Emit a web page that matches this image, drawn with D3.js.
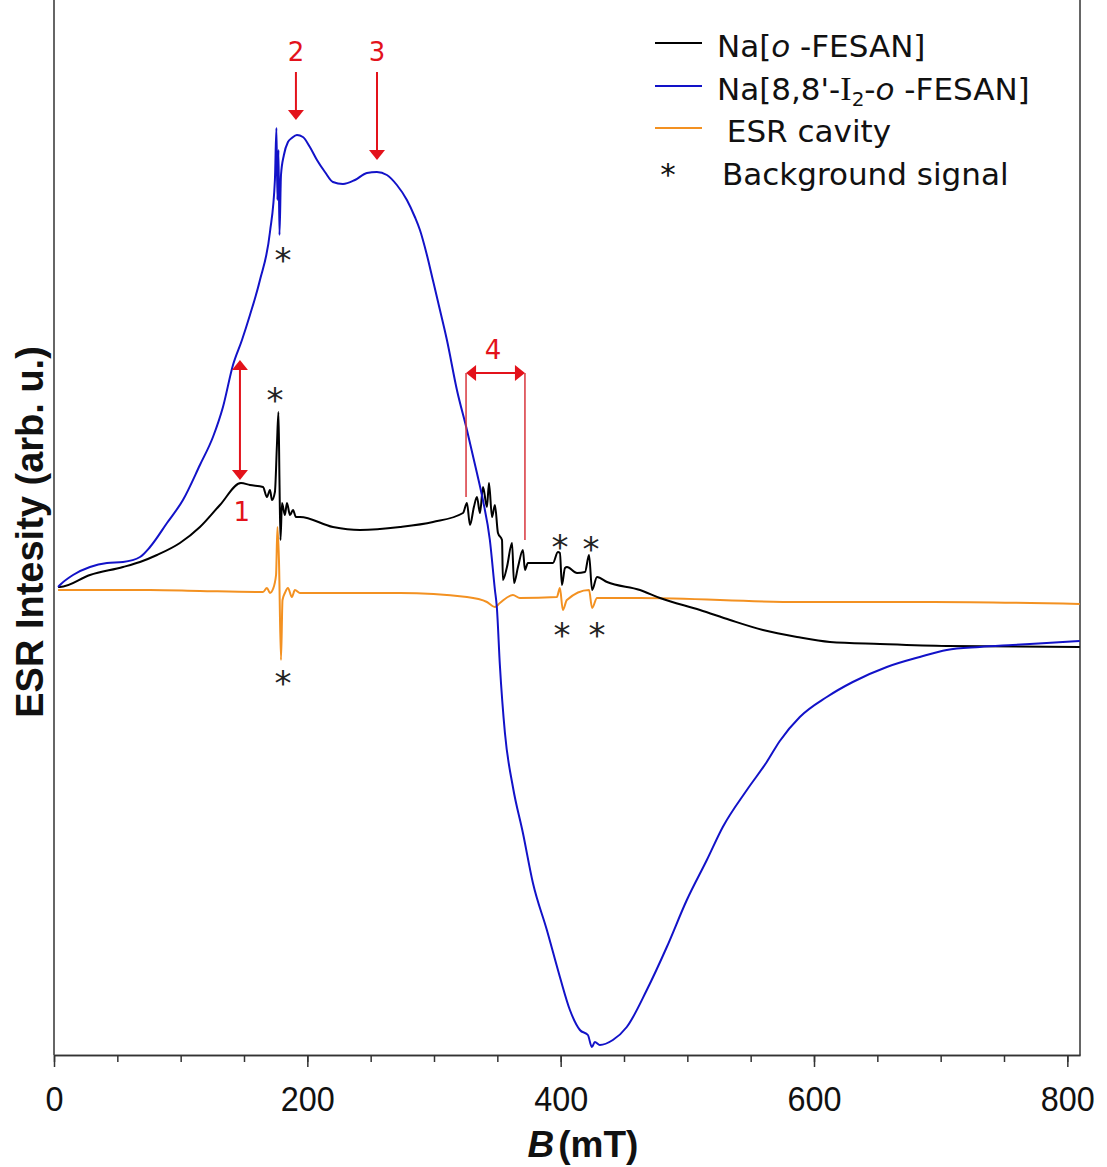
<!DOCTYPE html>
<html>
<head>
<meta charset="utf-8">
<script src="https://cdn.jsdelivr.net/npm/d3@7"></script>
<style>
body { margin: 0; background: #fff; }
text { white-space: pre; }
</style>
</head>
<body>
<script>
// field in mT, intensity in arb. u.
var blackB = [3.2,4.7,28.4,54.5,67.9,81.3,99.4,115.2,131,147.6,154.7,165,168.1,170.5,172.1,174.4,176,177.2,178,178.8,180,182.3,183.9,186.3,188.7,191,194.2,220.2,241.6,273.2,299.2,322.9,326,328.4,331.5,333.9,336.3,338.7,341.8,343.4,345.8,348.1,350.5,353.7,354.4,357.6,361.6,363.2,366.3,370.2,371.8,374.1,393.9,397.8,399.4,401,403.4,405,412.9,419.2,422.4,424.8,428.7,436.6,462.6,478.4,510,533.7,559.7,586.6,612.6,652.1,705,809.8];
var blackI = [4,4,16,24,29,36,48,64,86,108,106,104,94,101,91,99,146,179,111,51,88,76,88,76,81,74,74,64,61,64,69,78,88,66,84,94,78,104,84,108,74,86,58,51,11,24,48,8,24,41,21,28,28,39,38,6,23,24,18,19,36,1,14,9,1,-7,-19,-29,-39,-46,-51,-53,-55,-56];

var blueB = [3.2,4.7,15,28.4,41.8,54.5,67.9,75.8,89.2,101.8,115.2,125.5,133.4,141.3,148.4,154.7,162.6,170.5,174.4,175.6,176.4,177.2,178,179.2,181.5,184.7,187.8,191.8,196.5,202,207.6,213.9,220.2,228.1,237.6,247,254.9,262.8,270.7,278.6,284.9,288.9,294.4,299.1,304.7,310.2,318.1,326,333.9,338.6,344.1,348.1,349.6,352,356,362.3,370.2,378.1,389.1,399.4,407.3,415.2,421.5,424.6,427,430.9,441.2,452.2,468,483.8,499.6,515.4,528,547,562.7,573,588.8,610.1,630.6,657.5,683.5,704.8,730.9,756.9,783.7,809.8];
var blueI = [4,6,16,24,28,29,34,44,68,91,126,154,184,226,251,276,311,359,411,463,391,441,356,416,436,449,453,456,454,444,431,419,409,407,411,418,419,416,406,391,374,361,336,311,281,251,201,161,118,91,51,1,-16,-74,-142,-196,-242,-292,-339,-386,-419,-439,-444,-456,-451,-454,-449,-436,-399,-356,-309,-269,-236,-199,-171,-150,-126,-106,-91,-76,-66,-59,-56,-54,-52,-50];

var cavityB = [3.2,75.8,115.2,165,168.1,170.5,172.9,175.3,176.4,177.6,179.2,180.4,182.3,184.7,187.8,190.2,194.2,273.2,326,341.8,348.1,352,362.3,367.8,397,399.4,401.7,404.9,422.4,424.8,428.7,462.6,588.9,693.9,809.8];
var cavityI = [1,1,0,-1,3,-2,2,16,64,31,-69,-9,-2,3,-6,1,-2,-2,-6,-11,-16,-12,-4,-7,-6,3,-19,-9,1,-17,-7,-7,-11,-11,-13];

var majorTicks = [0,200,400,600,800];
var minorTicks = d3.range(0, 801, 50);

// background-signal asterisks [B, I]
var starB = [180.8,174.5,180.8,399.5,423.9,401,428.7];
var starI = [338,198,-85,51,49,-37,-37];

var svg = d3.select("body").append("svg")
  .attr("width", 1107)
  .attr("height", 1167);

var x = d3.scaleLinear().domain([0, 810]).range([54, 1080]);
var y = d3.scaleLinear().domain([-464, 591]).range([1055, 0]);

var red = "#e3121b";

// frame
svg.append("line").attr("x1", 54).attr("x2", 54).attr("y1", 0).attr("y2", 1055)
  .attr("stroke", "#333").attr("stroke-width", 1.5);
svg.append("line").attr("x1", 1080).attr("x2", 1080).attr("y1", 0).attr("y2", 1055)
  .attr("stroke", "#333").attr("stroke-width", 1.5);

var gx = svg.append("g").attr("transform", "translate(0,1055)");
gx.append("g")
  .call(d3.axisBottom(x).tickValues(minorTicks).tickSize(7).tickSizeOuter(0).tickFormat(""));
gx.append("g")
  .call(d3.axisBottom(x).tickValues(majorTicks).tickSize(12).tickSizeOuter(0).tickPadding(18))
  .selectAll("text")
  .attr("transform", "scale(0.9,1)")
  .style("font-family", "'Liberation Sans', Arial, sans-serif")
  .style("font-size", "36px")
  .attr("fill", "#111");
gx.selectAll("path, line").attr("stroke", "#333").attr("stroke-width", 1.5);

// axis titles
var xt = svg.append("text")
  .attr("x", 583).attr("y", 1157)
  .attr("text-anchor", "middle")
  .style("font-family", "'Liberation Sans', Arial, sans-serif")
  .style("font-size", "37px")
  .style("font-weight", "bold")
  .attr("fill", "#111");
xt.append("tspan").style("font-style", "italic").text("B");
xt.append("tspan").attr("dx", 4).text("(mT)");

svg.append("text")
  .attr("transform", "translate(43,532) rotate(-90)")
  .attr("text-anchor", "middle")
  .style("font-family", "'Liberation Sans', Arial, sans-serif")
  .style("font-size", "38px")
  .style("font-weight", "bold")
  .attr("fill", "#111")
  .text("ESR Intesity (arb. u.)");

// curves
var series = [
  {B: cavityB, I: cavityI, color: "#f39121"},
  {B: blackB, I: blackI, color: "#000000"},
  {B: blueB, I: blueI, color: "#1212c8"}
];
var line = d3.line()
  .curve(d3.curveMonotoneX)
  .x(function(d) { return x(d[0]); })
  .y(function(d) { return y(d[1]); });

svg.selectAll(".curve")
  .data(series)
  .enter().append("path")
  .attr("class", "curve")
  .attr("fill", "none")
  .attr("stroke", function(d) { return d.color; })
  .attr("stroke-width", 2)
  .attr("stroke-linejoin", "round")
  .attr("d", function(d) { return line(d3.zip(d.B, d.I)); });

// asterisks
svg.selectAll(".star")
  .data(d3.zip(starB, starI))
  .enter().append("text")
  .attr("class", "star")
  .attr("x", function(d) { return x(d[0]); })
  .attr("y", function(d) { return y(d[1]); })
  .attr("dy", "0.57em")
  .attr("text-anchor", "middle")
  .style("font-family", "'DejaVu Sans', sans-serif")
  .style("font-size", "34px")
  .attr("fill", "#222")
  .text("*");

// red annotations
function headDown(px, py) {
  return "M" + (px - 8) + "," + (py - 10) + "L" + (px + 8) + "," + (py - 10) + "L" + px + "," + py + "Z";
}
function headUp(px, py) {
  return "M" + (px - 8) + "," + (py + 10) + "L" + (px + 8) + "," + (py + 10) + "L" + px + "," + py + "Z";
}
function headLeft(px, py) {
  return "M" + (px + 10) + "," + (py - 8) + "L" + (px + 10) + "," + (py + 8) + "L" + px + "," + py + "Z";
}
function headRight(px, py) {
  return "M" + (px - 10) + "," + (py - 8) + "L" + (px - 10) + "," + (py + 8) + "L" + px + "," + py + "Z";
}
var ann = svg.append("g");
function redText(b, i, s) {
  ann.append("text").attr("x", x(b)).attr("y", y(i))
    .attr("text-anchor", "middle")
    .style("font-family", "'DejaVu Sans', sans-serif")
    .style("font-size", "26px")
    .attr("fill", red)
    .text(s);
}
// arrows 2 and 3
[[191, 519, 471, "2"], [255, 519, 431, "3"]].forEach(function(a) {
  ann.append("line").attr("x1", x(a[0])).attr("x2", x(a[0]))
    .attr("y1", y(a[1])).attr("y2", y(a[2]) - 8)
    .attr("stroke", red).attr("stroke-width", 2);
  ann.append("path").attr("d", headDown(x(a[0]), y(a[2]))).attr("fill", red);
  redText(a[0], 530, a[3]);
});
// arrow 1 (double)
ann.append("line").attr("x1", x(146.8)).attr("x2", x(146.8))
  .attr("y1", y(231) + 8).attr("y2", y(111) - 8)
  .attr("stroke", red).attr("stroke-width", 2);
ann.append("path").attr("d", headUp(x(146.8), y(231))).attr("fill", red);
ann.append("path").attr("d", headDown(x(146.8), y(111))).attr("fill", red);
redText(148.3, 70, "1");
// bracket 4
ann.append("line").attr("x1", x(325.3) + 8).attr("x2", x(371.8) - 8)
  .attr("y1", y(218)).attr("y2", y(218))
  .attr("stroke", red).attr("stroke-width", 2);
ann.append("path").attr("d", headLeft(x(325.3), y(218))).attr("fill", red);
ann.append("path").attr("d", headRight(x(371.8), y(218))).attr("fill", red);
ann.append("line").attr("x1", x(325.3)).attr("x2", x(325.3))
  .attr("y1", y(218)).attr("y2", y(94))
  .attr("stroke", "#d8353c").attr("stroke-width", 1.5);
ann.append("line").attr("x1", x(371.8)).attr("x2", x(371.8))
  .attr("y1", y(218)).attr("y2", y(51))
  .attr("stroke", "#d8353c").attr("stroke-width", 1.5);
redText(346.6, 232, "4");

// legend
var leg = svg.append("g")
  .style("font-family", "'DejaVu Sans', sans-serif")
  .style("font-size", "31px")
  .attr("fill", "#111");
var rowY = [57, 100, 142, 185];
[["#000000", 0], ["#1212c8", 1], ["#f39121", 2]].forEach(function(r) {
  leg.append("line").attr("x1", 655).attr("x2", 702)
    .attr("y1", rowY[r[1]] - 14).attr("y2", rowY[r[1]] - 14)
    .attr("stroke", r[0]).attr("stroke-width", 2);
});
var t1 = leg.append("text").attr("x", 717).attr("y", rowY[0]);
t1.append("tspan").text("Na[");
t1.append("tspan").style("font-style", "italic").text("o");
t1.append("tspan").text(" -FESAN]");
var t2 = leg.append("text").attr("x", 717).attr("y", rowY[1]);
t2.append("tspan").text("Na[8,8'-");
t2.append("tspan").style("font-family", "'Liberation Serif', serif").style("font-size", "34px").text("I");
t2.append("tspan").style("font-size", "20px").attr("dy", 6).text("2");
t2.append("tspan").attr("dy", -6).text("-");
t2.append("tspan").style("font-style", "italic").text("o");
t2.append("tspan").text(" -FESAN]");
leg.append("text").attr("x", 717).attr("y", rowY[2]).text(" ESR cavity");
leg.append("text").attr("x", 668).attr("y", rowY[3]).attr("text-anchor", "middle").text("*");
leg.append("text").attr("x", 722).attr("y", rowY[3]).text("Background signal");
</script>
</body>
</html>
